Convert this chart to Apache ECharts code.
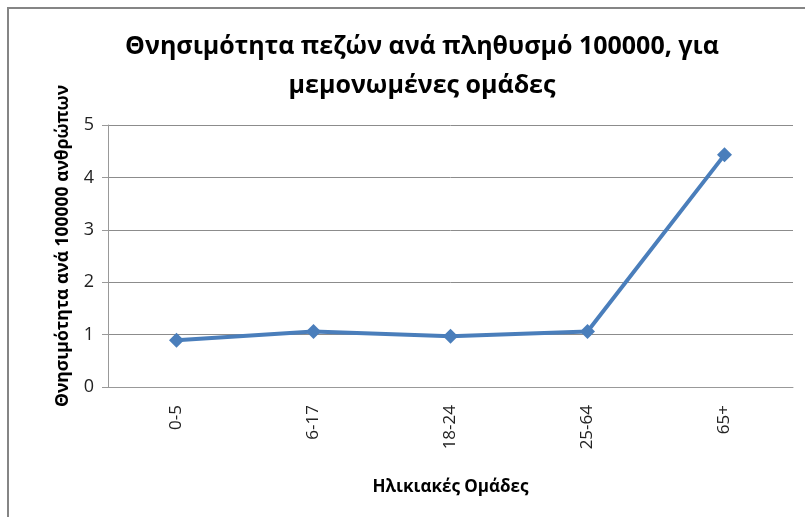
<!DOCTYPE html>
<html><head><meta charset="utf-8">
<script src="https://cdn.jsdelivr.net/npm/echarts@6/dist/echarts.min.js"></script>
<style>html,body{margin:0;padding:0;background:#fff}#c{width:805px;height:517px;position:relative}
#frame{position:absolute;left:7px;top:7px;width:805px;height:520px;border-left:2px solid #858585;border-top:2px solid #858585;pointer-events:none}</style>
</head><body><div id="c"></div><div id="frame"></div>
<script>
const titleText = 'Θνησιμότητα πεζών ανά πληθυσμό 100000, για\nμεμονωμένες ομάδες';
const xTitle = 'Ηλικιακές Ομάδες';
const yTitle = 'Θνησιμότητα ανά 100000 ανθρώπων';
const categories = ['0-5', '6-17', '18-24', '25-64', '65+'];
const values = [0.89, 1.06, 0.97, 1.06, 4.43];
const yTicks = [0, 1, 2, 3, 4, 5];

const font = '"Open Sans", "Noto Sans", sans-serif';
const chart = echarts.init(document.getElementById('c'), null, {renderer: 'canvas'});
chart.setOption({
  animation: false,
  title: {
    text: titleText, left: 417, top: 22, textAlign: 'center',
    textStyle: {fontFamily: font, fontSize: 25, fontWeight: 'bold', color: '#000', lineHeight: 39}
  },
  grid: {left: 108, right: 12, top: 125, bottom: 130},
  xAxis: {
    type: 'category', data: categories, boundaryGap: true,
    name: xTitle, nameLocation: 'middle', nameGap: 92,
    nameTextStyle: {fontFamily: font, fontSize: 17, fontWeight: 'bold', color: '#000'},
    axisLine: {lineStyle: {color: '#999', width: 1}},
    axisTick: {show: false},
    axisLabel: {rotate: 90, fontFamily: font, fontSize: 17, color: '#222', margin: 18}
  },
  yAxis: {
    type: 'value', min: yTicks[0], max: yTicks[yTicks.length - 1], interval: 1,
    name: yTitle, nameLocation: 'middle', nameGap: 36,
    nameTextStyle: {fontFamily: font, fontSize: 17.5, fontWeight: 'bold', color: '#000', padding: [0, 0, 0, 20]},
    axisLine: {show: true, lineStyle: {color: '#999', width: 1}},
    axisTick: {show: true, inside: false, length: 6, lineStyle: {color: '#999'}},
    axisLabel: {fontFamily: font, fontSize: 18, color: '#222', margin: 14},
    splitLine: {lineStyle: {color: '#8c8c8c', width: 1}}
  },
  series: [{
    type: 'line', data: values,
    symbol: 'diamond', symbolSize: 15,
    lineStyle: {color: '#4a7ebb', width: 4},
    itemStyle: {color: '#4a7ebb'}
  }]
});
</script></body></html>
